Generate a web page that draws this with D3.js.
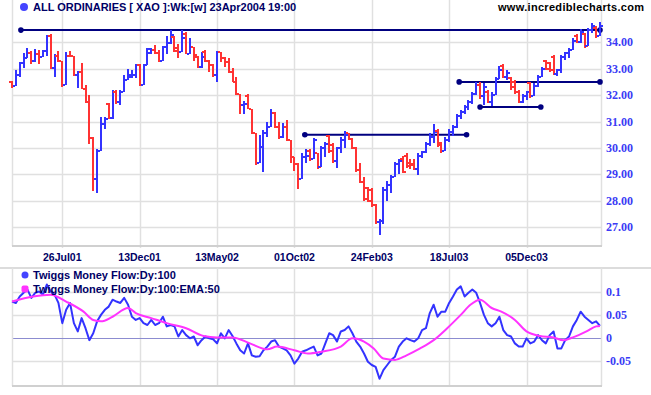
<!DOCTYPE html>
<html>
<head>
<meta charset="utf-8">
<script src="https://cdn.jsdelivr.net/npm/d3@7"></script>
<style>
  body { margin: 0; background: #fff; }
  svg { display: block; }
</style>
</head>
<body>
<div id="chart"></div>
<script>
// weekly bars, index 0 = late Apr 2001, last = 23Apr2004
const opens = [32.5,32.34,32.78,33.22,33.39,33.6,33.29,33.55,33.45,33.67,
  34.22,33.04,33.49,33.29,32.38,33.49,33.47,32.76,32.89,32.25,
  31.75,30.38,28.84,29.87,30.9,31.65,31.14,32.13,31.75,32.13,
  32.57,32.7,32.76,33.14,32.38,33.14,33.6,33.71,33.58,33.29,
  33.84,33.96,34.2,33.8,33.65,34.3,33.57,33.84,33.45,33.06,
  33.65,33.29,33.14,32.76,33.65,33.42,33.27,32.89,32.51,32.06,
  31.62,31.95,31.49,30.58,29.44,30.04,30.58,30.8,31.34,30.8,
  30.42,30.8,30.29,29.66,29.41,28.81,29.66,29.9,29.6,29.8,
  29.28,30.0,30.45,30.1,29.5,30.0,30.3,30.55,30.33,30.0,
  29.15,28.7,28.5,28.4,27.85,27.18,27.25,28.4,28.6,28.9,
  29.4,29.6,29.7,29.45,29.4,29.2,29.7,29.85,30.15,30.4,
  30.65,30.2,29.9,30.3,30.6,30.8,31.2,31.35,31.55,31.75,
  32.05,32.4,31.95,32.1,31.75,32.0,32.6,33.1,32.7,32.65,
  32.5,32.1,31.75,31.98,32.45,31.95,32.35,32.7,33.3,33.2,
  33.45,32.8,32.95,33.45,33.6,33.7,34.25,34.0,34.3,33.85,
  34.45,34.55,34.25];
const highs = [32.53,32.95,33.27,33.58,33.77,33.67,33.75,33.7,33.71,34.28,
  34.3,33.54,33.67,33.29,33.65,33.67,33.47,32.91,33.2,32.38,
  32.0,30.42,29.97,31.18,31.18,31.71,32.19,32.19,32.19,32.78,
  32.97,32.95,33.16,33.16,33.16,33.8,33.8,33.9,33.71,33.87,
  34.24,34.47,34.23,33.92,34.47,34.38,34.18,33.84,33.49,33.62,
  33.71,33.33,33.16,33.67,33.65,33.44,33.39,33.01,32.7,32.06,
  31.77,32.06,31.49,30.58,30.48,30.67,30.99,31.49,31.37,30.99,
  30.96,31.05,30.29,29.66,29.44,29.82,29.95,29.95,30.37,29.8,
  30.08,30.24,30.49,30.2,30.05,30.43,30.66,30.58,30.37,30.03,
  29.42,28.91,28.53,28.47,27.87,27.33,28.51,28.76,28.97,29.48,
  29.6,29.7,29.82,29.6,29.6,29.8,29.9,30.24,30.56,30.91,
  30.71,30.24,30.4,30.71,30.87,31.29,31.42,31.61,31.8,32.12,
  32.5,32.5,32.44,32.18,32.12,32.69,33.1,33.16,32.95,32.69,
  32.56,32.18,32.06,32.15,32.5,32.44,32.75,33.07,33.33,33.26,
  33.5,33.0,33.5,33.64,33.77,34.15,34.3,34.5,34.34,34.53,
  34.72,34.6,34.76];
const lows = [32.28,32.34,32.7,33.01,33.39,33.16,33.27,33.16,33.45,33.49,
  32.97,32.7,33.27,32.32,32.38,33.44,32.73,32.28,32.22,31.72,
  30.16,28.39,28.29,29.87,30.71,31.11,31.11,31.68,31.62,32.13,
  32.57,32.66,32.63,32.35,32.38,33.14,33.54,33.54,33.24,33.29,
  33.54,33.92,33.65,33.42,33.65,33.54,33.54,33.29,33.04,33.04,
  33.24,32.89,32.7,32.48,33.27,33.08,32.82,32.48,32.0,31.27,
  31.3,31.47,30.54,29.37,29.44,29.09,30.42,30.8,30.76,30.35,
  30.38,30.25,29.44,29.11,28.46,28.81,29.44,29.52,29.6,29.19,
  29.28,29.65,29.8,29.44,29.23,29.8,30.0,30.3,29.95,29.1,
  28.66,28.0,27.96,27.77,27.14,26.7,27.14,28.0,28.28,28.9,
  29.0,29.04,29.23,29.2,29.18,28.97,29.61,29.8,30.08,30.18,
  30.05,29.8,29.9,30.24,30.46,30.75,31.1,31.29,31.42,31.67,
  31.99,31.87,31.61,31.71,31.59,32.0,32.6,32.63,32.56,32.2,
  32.05,31.71,31.71,31.8,31.89,31.95,32.31,32.69,32.95,32.88,
  32.75,32.72,32.85,33.33,33.39,33.7,33.96,33.96,33.77,33.85,
  34.34,34.18,34.25];
const closes = [32.34,32.78,33.22,33.39,33.6,33.29,33.55,33.45,33.67,34.22,
  33.04,33.49,33.29,32.38,33.49,33.47,32.76,32.89,32.25,31.75,
  30.38,28.84,29.87,30.9,31.1,31.14,32.13,31.75,32.13,32.57,
  32.76,32.76,33.14,32.38,33.14,33.75,33.71,33.58,33.29,33.84,
  33.96,34.28,33.67,33.65,34.18,33.57,33.84,33.5,33.06,33.46,
  33.29,33.14,32.76,33.65,33.42,33.27,32.89,32.51,32.06,31.62,
  31.68,31.49,30.58,29.44,30.04,30.58,30.8,31.34,30.8,30.42,
  30.8,30.29,29.66,29.41,28.81,29.66,29.7,29.6,30.3,29.28,
  30.0,30.15,29.9,29.5,30.0,30.3,30.5,30.33,30.0,29.15,
  28.7,28.05,28.0,27.85,27.18,27.25,28.4,28.6,28.9,29.4,
  29.5,29.1,29.3,29.35,29.2,29.7,29.85,30.15,30.4,30.6,
  30.1,29.9,30.3,30.6,30.8,31.2,31.35,31.55,31.75,32.05,
  32.4,31.95,32.3,31.75,32.0,32.6,32.95,32.7,32.85,32.3,
  32.1,31.75,31.98,32.1,31.95,32.35,32.7,33.0,32.98,32.95,
  32.8,32.95,33.45,33.6,33.7,34.05,34.0,34.4,33.85,34.45,
  34.6,34.25,34.6];

// Twiggs Money Flow (read once per weekly bar)
const tmf = [0.080,0.077,0.091,0.099,0.106,0.088,0.099,0.102,0.095,0.117,
  0.102,0.095,0.077,0.033,0.062,0.077,0.033,0.015,0.044,0.022,
  -0.004,0.011,0.037,0.051,0.062,0.069,0.084,0.080,0.077,0.088,
  0.073,0.047,0.040,0.044,0.033,0.029,0.040,0.029,0.033,0.047,
  0.026,0.029,0.026,0.004,0.018,0.007,0.0,0.004,-0.015,-0.004,
  0.004,0.0,-0.002,-0.011,0.011,0.0,0.018,0.005,-0.011,-0.026,
  -0.033,-0.011,-0.037,-0.040,-0.039,-0.026,-0.018,-0.007,-0.004,-0.018,
  -0.022,-0.026,-0.037,-0.055,-0.044,-0.029,-0.026,-0.022,-0.018,-0.037,
  -0.033,-0.011,0.011,0.007,-0.007,0.015,0.018,0.026,0.011,-0.007,
  -0.018,-0.033,-0.051,-0.058,-0.062,-0.088,-0.069,-0.058,-0.047,-0.040,
  -0.018,-0.007,0.0,-0.004,-0.007,0.0,0.018,0.022,0.055,0.073,
  0.047,0.058,0.058,0.077,0.091,0.106,0.113,0.091,0.099,0.106,
  0.099,0.077,0.051,0.033,0.026,0.033,0.047,0.018,0.007,0.004,
  -0.011,-0.018,-0.018,0.0,-0.011,-0.007,0.007,-0.004,-0.011,0.007,
  0.015,-0.022,-0.022,-0.004,0.004,0.026,0.040,0.058,0.047,0.040,
  0.033,0.037,0.027];

// EMA:50 of TMF, read at these bar positions
const emaIdx = [0,5.5,10,14,18.5,21,23,26,30,32,36,40,45,49.5,53,57,61.5,66,68.5,73,
  76.5,80,85,88,91,93.5,96,99,102,105.5,109,112.5,116,118.5,121,124,126.5,130,133,
  136.5,140,142.5,145,148.5,151,152];
const emaVal = [0.080,0.091,0.095,0.080,0.058,0.040,0.037,0.047,0.066,0.055,0.044,0.033,0.022,0.005,0.002,0.002,-0.011,-0.024,-0.018,-0.026,
  -0.033,-0.029,-0.018,0.0,-0.007,-0.022,-0.044,-0.047,-0.037,-0.022,-0.004,0.022,0.051,0.073,0.084,0.066,0.058,0.040,0.015,
  0.005,0.002,-0.004,0.002,0.015,0.026,0.027];

// date labels and the bars they sit on
const tickIdx = [13, 33, 53, 73, 93, 113, 133];
const tickLabels = ["26Jul01", "13Dec01", "13May02", "01Oct02", "24Feb03", "18Jul03", "05Dec03"];
const priceTicks = [27, 28, 29, 30, 31, 32, 33, 34];
const tmfTicks = [-0.05, 0, 0.05, 0.1];

// horizontal support/resistance lines: level, start bar, end bar
const lineLevels = [34.46, 30.5, 32.5, 31.55];
const lineStart = [2.3, 75.7, 115.6, 121];
const lineEnd = [152, 117.5, 152, 136.7];

const W = 651, H = 395;
const left = 12, right = 601;
const gridColor = "#e0e0e0";
const axisColor = "#d0d0d0";
const upColor = "#3333ff", downColor = "#ff3333";
const navy = "#000080";
const sans = "'Liberation Sans', Arial, sans-serif";
const serif = "'Liberation Serif', 'Times New Roman', serif";

const svg = d3.select("#chart").append("svg")
  .attr("width", W).attr("height", H)
  .style("background", "#fff");

const x = d3.scaleLinear().domain([0, 152]).range([12, 600]);
const y = d3.scaleLinear().domain([26.29, 35.6]).range([246, 0]);
const y2 = d3.scaleLinear().domain([-0.1037, 0.153]).range([386, 268]);

// ---- upper panel grid
const up = svg.append("g");
up.selectAll(".vg").data(tickIdx).enter().append("line")
  .attr("x1", d => Math.round(x(d)) + 0.5).attr("x2", d => Math.round(x(d)) + 0.5)
  .attr("y1", 0).attr("y2", 248)
  .attr("stroke", gridColor).attr("stroke-width", 1.5);
up.selectAll(".hg").data(priceTicks).enter().append("line")
  .attr("x1", left).attr("x2", right)
  .attr("y1", d => Math.round(y(d)) + 0.5).attr("y2", d => Math.round(y(d)) + 0.5)
  .attr("stroke", gridColor).attr("stroke-width", 1.5);
up.append("line").attr("x1", left + 0.5).attr("x2", left + 0.5).attr("y1", 0).attr("y2", 246)
  .attr("stroke", gridColor).attr("stroke-width", 1.5);
up.append("line").attr("x1", right + 0.5).attr("x2", right + 0.5).attr("y1", 0).attr("y2", 246)
  .attr("stroke", gridColor).attr("stroke-width", 1.5);
up.append("line").attr("x1", left).attr("x2", right + 1).attr("y1", 246).attr("y2", 246)
  .attr("stroke", axisColor).attr("stroke-width", 2);

// price labels on the right
up.selectAll(".pl").data(priceTicks).enter().append("text")
  .attr("x", 606).attr("y", d => y(d) + 4)
  .style("font-family", serif)
  .style("font-weight", "bold").style("font-size", "12px")
  .attr("fill", "#3b3bf5")
  .text(d => d3.format(".2f")(d));

// support / resistance lines
lineLevels.forEach((lv, k) => {
  up.append("line")
    .attr("x1", x(lineStart[k])).attr("x2", x(lineEnd[k]))
    .attr("y1", y(lv)).attr("y2", y(lv))
    .attr("stroke", navy).attr("stroke-width", 2);
  [lineStart[k], lineEnd[k]].forEach(p => {
    up.append("circle").attr("cx", x(p)).attr("cy", y(lv)).attr("r", 2.8).attr("fill", navy);
  });
});

// OHLC bars
const bars = up.append("g").attr("shape-rendering", "crispEdges");
closes.forEach((c, i) => {
  const col = c >= opens[i] ? upColor : downColor;
  const bx = Math.round(x(i));
  bars.append("rect")
    .attr("x", bx - 1).attr("width", 2)
    .attr("y", y(highs[i])).attr("height", Math.max(1, y(lows[i]) - y(highs[i])))
    .attr("fill", col);
  bars.append("rect").attr("x", bx - 3).attr("width", 2)
    .attr("y", Math.round(y(opens[i])) - 1).attr("height", 1.5).attr("fill", col);
  bars.append("rect").attr("x", bx + 1).attr("width", 2)
    .attr("y", Math.round(y(c)) - 1).attr("height", 1.5).attr("fill", col);
});

// date labels
svg.selectAll(".dl").data(tickIdx).enter().append("text")
  .attr("x", d => x(d)).attr("y", 261)
  .attr("text-anchor", "middle")
  .style("font-family", sans)
  .style("font-weight", "bold").style("font-size", "10.5px")
  .attr("fill", "#000066")
  .text((d, i) => tickLabels[i]);

// title
svg.append("circle").attr("cx", 24).attr("cy", 7).attr("r", 4).attr("fill", "#4444ff");
svg.append("text").attr("x", 33).attr("y", 11)
  .style("font-family", sans)
  .style("font-weight", "bold").style("font-size", "11px")
  .attr("fill", "#000066")
  .text("ALL ORDINARIES [ XAO ]:Wk:[w]  23Apr2004 19:00");
svg.append("text").attr("x", 644).attr("y", 11).attr("text-anchor", "end")
  .attr("textLength", 146)
  .style("font-family", sans)
  .style("font-weight", "bold").style("font-size", "11px")
  .attr("fill", "#000")
  .text("www.incrediblecharts.com");

// ---- lower panel
const lo = svg.append("g");
lo.append("line").attr("x1", 0).attr("x2", W).attr("y1", 268).attr("y2", 268)
  .attr("stroke", axisColor).attr("stroke-width", 1.5);
lo.selectAll(".vg2").data(tickIdx).enter().append("line")
  .attr("x1", d => Math.round(x(d)) + 0.5).attr("x2", d => Math.round(x(d)) + 0.5)
  .attr("y1", 268).attr("y2", 386)
  .attr("stroke", gridColor).attr("stroke-width", 1.5);
lo.selectAll(".hg2").data(tmfTicks.filter(d => d !== 0)).enter().append("line")
  .attr("x1", left).attr("x2", right)
  .attr("y1", d => Math.round(y2(d)) + 0.5).attr("y2", d => Math.round(y2(d)) + 0.5)
  .attr("stroke", gridColor).attr("stroke-width", 1.5);
lo.append("line").attr("x1", left).attr("x2", right)
  .attr("y1", Math.round(y2(0)) + 0.5).attr("y2", Math.round(y2(0)) + 0.5)
  .attr("stroke", "#8c8cd0").attr("stroke-width", 1);
lo.append("line").attr("x1", left + 0.5).attr("x2", left + 0.5).attr("y1", 268).attr("y2", 386)
  .attr("stroke", gridColor).attr("stroke-width", 1.5);
lo.append("line").attr("x1", right + 0.5).attr("x2", right + 0.5).attr("y1", 268).attr("y2", 386)
  .attr("stroke", gridColor).attr("stroke-width", 1.5);
lo.append("line").attr("x1", left).attr("x2", right + 1).attr("y1", 386).attr("y2", 386)
  .attr("stroke", axisColor).attr("stroke-width", 2);

lo.selectAll(".tl").data(tmfTicks).enter().append("text")
  .attr("x", 606).attr("y", d => y2(d) + 4)
  .style("font-family", serif)
  .style("font-weight", "bold").style("font-size", "12px")
  .attr("fill", "#3b3bf5")
  .text(d => d === 0 ? "0" : String(d));

const tmfLine = d3.line().x((d, i) => x(i)).y(d => y2(d));
lo.append("path").datum(tmf)
  .attr("d", tmfLine)
  .attr("fill", "none").attr("stroke", upColor).attr("stroke-width", 2)
  .attr("stroke-linejoin", "round");

const emaLine = d3.line().x(d => x(d[0])).y(d => y2(d[1])).curve(d3.curveMonotoneX);
lo.append("path").datum(emaIdx.map((p, i) => [p, emaVal[i]]))
  .attr("d", emaLine)
  .attr("fill", "none").attr("stroke", "#ff33ff").attr("stroke-width", 2);

// legend
lo.append("circle").attr("cx", 25).attr("cy", 275).attr("r", 3.5).attr("fill", "#4444ff");
lo.append("text").attr("x", 33).attr("y", 279)
  .style("font-family", sans)
  .style("font-weight", "bold").style("font-size", "11px").attr("fill", "#000066")
  .text("Twiggs Money Flow:Dy:100");
lo.append("rect").attr("x", 21.5).attr("y", 285.5).attr("width", 7).attr("height", 7).attr("rx", 2)
  .attr("fill", "#ff33ff");
lo.append("text").attr("x", 33).attr("y", 293)
  .style("font-family", sans)
  .style("font-weight", "bold").style("font-size", "11px").attr("fill", "#000066")
  .text("Twiggs Money Flow:Dy:100:EMA:50");
</script>
</body>
</html>
